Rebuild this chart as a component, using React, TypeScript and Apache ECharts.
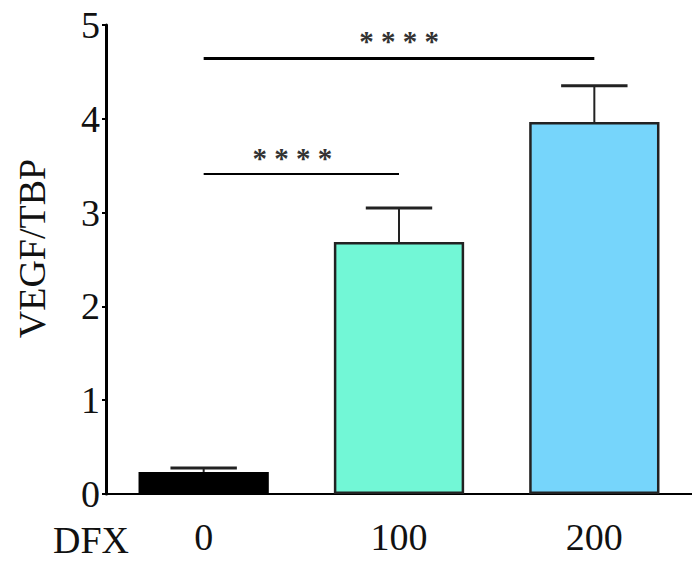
import React, { useEffect, useRef } from "react";
import * as echarts from "echarts";

const categories = ["0", "100", "200"];
const means = [0.235, 2.687, 3.966];
const sems = [0.042, 0.363, 0.387];
const barColors = ["#000000", "#72F7D6", "#76D5FB"];
const yTicks = { min: 0, max: 5, interval: 1 };
const sigTop = { from: "0", to: "200", y: 4.65, label: "* * * *" };
const sigLow = { from: "0", to: "100", y: 3.41, label: "* * * *" };
const xGroupLabel = "DFX";

const FONT = "Liberation Serif";

export default function App() {
  const ref = useRef<HTMLDivElement>(null);
  useEffect(() => {
    if (!ref.current) return;
    document.body.style.margin = "0";
    const chart = echarts.init(ref.current, undefined, { renderer: "svg" });
    const sigLine = (s: typeof sigTop, width: number, pad: number[]) => [
      {
        coord: [s.from, s.y],
        lineStyle: { color: "#000", width, type: "solid" },
        label: {
          show: true,
          position: "middle",
          formatter: s.label,
          fontFamily: FONT,
          fontSize: 29,
          fontWeight: "bold",
          color: "#333",
          distance: 2,
          padding: pad,
        },
      },
      { coord: [s.to, s.y] },
    ];
    chart.setOption({
      animation: false,
      textStyle: { fontFamily: FONT },
      title: {
        text: xGroupLabel,
        left: 48,
        top: 516,
        textStyle: { fontFamily: FONT, fontSize: 38, fontWeight: "normal", color: "#111" },
      },
      grid: { left: 106, top: 25, width: 590, height: 469 },
      xAxis: {
        type: "category",
        data: categories,
        boundaryGap: true,
        axisLine: { lineStyle: { color: "#000", width: 2 } },
        axisTick: { alignWithLabel: true, length: 6, lineStyle: { color: "#000", width: 2 } },
        axisLabel: { fontFamily: FONT, fontSize: 38, color: "#111", margin: 24 },
      },
      yAxis: {
        type: "value",
        min: yTicks.min,
        max: yTicks.max,
        interval: yTicks.interval,
        name: "VEGF/TBP",
        nameLocation: "middle",
        nameGap: 55,
        nameTextStyle: { fontFamily: FONT, fontSize: 38, color: "#111", padding: [0, 0, 0, 22] },
        splitLine: { show: false },
        axisLine: { show: true, lineStyle: { color: "#000", width: 3 } },
        axisTick: { show: true, length: 4, lineStyle: { color: "#000", width: 2 } },
        axisLabel: { fontFamily: FONT, fontSize: 38, color: "#111", margin: 6 },
      },
      series: [
        {
          type: "bar",
          barWidth: "66.7%",
          data: means.map((v, i) => ({
            value: v,
            itemStyle: { color: barColors[i], borderColor: i === 0 ? "#000" : "#222", borderWidth: 2.5 },
          })),
          markLine: {
            symbol: "none",
            silent: true,
            data: [sigLine(sigTop, 3, [0, 0, 0, 0]), sigLine(sigLow, 2, [0, 18, 0, 0])],
          },
        },
        {
          type: "custom",
          z: 3,
          data: means.map((m, i) => [i, m, m + sems[i]]),
          encode: { x: 0, y: 2 },
          renderItem: (params: any, api: any) => {
            const x = api.value(0);
            const lo = api.coord([x, api.value(1)]);
            const hi = api.coord([x, api.value(2)]);
            const half = api.size([1, 0])[0] * 0.17;
            return {
              type: "group",
              children: [
                {
                  type: "line",
                  shape: { x1: lo[0], y1: lo[1], x2: hi[0], y2: hi[1] },
                  style: { stroke: "#222", lineWidth: 2 },
                },
                {
                  type: "line",
                  shape: { x1: hi[0] - half, y1: hi[1], x2: hi[0] + half, y2: hi[1] },
                  style: { stroke: "#222", lineWidth: 3 },
                },
              ],
            };
          },
        },
      ],
    });
    return () => chart.dispose();
  }, []);
  return <div ref={ref} style={{ width: 692, height: 561 }} />;
}
